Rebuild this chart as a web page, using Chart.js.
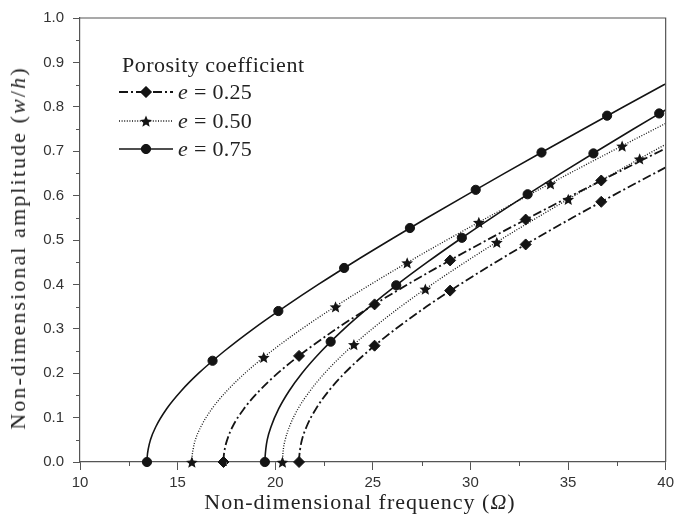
<!DOCTYPE html>
<html>
<head>
<meta charset="utf-8">
<title>Amplitude vs frequency</title>
<script src="https://cdn.jsdelivr.net/npm/chart.js@4.4.0/dist/chart.umd.min.js"></script>
<style>
    html, body { margin: 0; padding: 0; background: #fff; }
    #wrap { position: relative; width: 678px; height: 526px; }
    .txt {
        position: absolute;
        font-family: "Liberation Serif", "Times New Roman", serif;
        color: #222;
        white-space: nowrap;
        line-height: 1;
    }
    #xTitle { left: 360px; top: 502px; font-size: 22px; letter-spacing: 1px; transform: translate(-50%, -50%); }
    #yTitle { left: 18px; top: 248px; font-size: 22px; letter-spacing: 2.1px; transform: translate(-50%, -50%) rotate(-90deg); }
    #legTitle { left: 122px; top: 65px; font-size: 22px; letter-spacing: 0.5px; transform: translateY(-50%); }
    .legItem { left: 178px; font-size: 22px; letter-spacing: 0.3px; transform: translateY(-50%); }
</style>
</head>
<body>
<div id="wrap">
    <canvas id="chart" width="678" height="526"></canvas>
    <div class="txt" id="xTitle">Non-dimensional frequency (<i>Ω</i>)</div>
    <div class="txt" id="yTitle">Non-dimensional amplitude (<i>w</i>/<i>h</i>)</div>
    <div class="txt" id="legTitle">Porosity coefficient</div>
    <div class="txt legItem" style="top:92px"><i>e</i> = 0.25</div>
    <div class="txt legItem" style="top:121px"><i>e</i> = 0.50</div>
    <div class="txt legItem" style="top:149px"><i>e</i> = 0.75</div>
</div>
<script>
// amplitude levels (w/h) at which the curves were read
const ampLevels = [0, 0.01, 0.03, 0.05, 0.08, 0.12, 0.16, 0.2, 0.25, 0.3, 0.35, 0.4, 0.45, 0.5, 0.55, 0.6, 0.65, 0.7, 0.75, 0.8, 0.85, 0.9];

// frequency of each curve at those amplitude levels
const freqE075a = [13.43, 13.44, 13.50, 13.61, 13.89, 14.44, 15.18, 16.08, 17.40, 18.88, 20.50, 22.21, 24.01, 25.88, 27.79, 29.75, 31.74, 33.75, 35.79, 37.85, 39.93, 42.02];
const freqE050a = [15.73, 15.74, 15.80, 15.91, 16.20, 16.76, 17.52, 18.45, 19.82, 21.37, 23.07, 24.89, 26.80, 28.79, 30.84, 32.94, 35.07, 37.24, 39.44, 41.67];
const freqE025a = [17.35, 17.36, 17.42, 17.54, 17.82, 18.40, 19.18, 20.13, 21.54, 23.14, 24.90, 26.79, 28.78, 30.85, 33.00, 35.19, 37.43, 39.71, 42.02];
const freqE075b = [19.47, 19.48, 19.52, 19.59, 19.79, 20.18, 20.71, 21.37, 22.37, 23.53, 24.84, 26.26, 27.79, 29.40, 31.08, 32.83, 34.63, 36.47, 38.35, 40.27];
const freqE050b = [20.37, 20.38, 20.42, 20.51, 20.73, 21.17, 21.78, 22.53, 23.66, 24.97, 26.43, 28.03, 29.73, 31.52, 33.40, 35.33, 37.33, 39.36, 41.44];
const freqE025b = [21.22, 21.23, 21.28, 21.37, 21.61, 22.09, 22.74, 23.55, 24.77, 26.18, 27.75, 29.47, 31.29, 33.22, 35.22, 37.29, 39.42, 41.59];

// symbol positions
const mkE075aX = [13.43, 16.79, 20.16, 23.53, 26.90, 30.27, 33.64, 37.00];
const mkE075aY = [0, 0.228, 0.340, 0.437, 0.527, 0.613, 0.697, 0.780];
const mkE050aX = [15.73, 19.41, 23.09, 26.76, 30.43, 34.10, 37.77];
const mkE050aY = [0, 0.236, 0.350, 0.449, 0.540, 0.627, 0.712];
const mkE025aX = [17.35, 21.22, 25.09, 28.96, 32.83, 36.70];
const mkE025aY = [0, 0.239, 0.355, 0.454, 0.546, 0.634];
const mkE075bX = [19.47, 22.84, 26.20, 29.56, 32.93, 36.30, 39.67];
const mkE075bY = [0, 0.271, 0.398, 0.505, 0.603, 0.695, 0.785];
const mkE050bX = [20.37, 24.03, 27.69, 31.35, 35.01, 38.67];
const mkE050bY = [0, 0.265, 0.390, 0.495, 0.592, 0.683];
const mkE025bX = [21.22, 25.09, 28.96, 32.83, 36.70];
const mkE025bY = [0, 0.262, 0.386, 0.490, 0.586];

const xTicks = [10, 15, 20, 25, 30, 35, 40];
const yTicks = [0, 0.1, 0.2, 0.3, 0.4, 0.5, 0.6, 0.7, 0.8, 0.9, 1.0];

const INK = '#141414';
const AXIS = '#555';

const styles = {
    e025: { dash: [9, 3, 2, 3], width: 1.8, point: 'rectRot', radius: 5.5 },
    e050: { dash: [1, 1.6], width: 1.3, point: 'star5', radius: 6.2 },
    e075: { dash: [], width: 1.6, point: 'circle', radius: 4.6 }
};

// filled five-point star path (Chart.js has no filled star style)
function starPath(ctx, cx, cy, r) {
    const ri = r * 0.45;
    ctx.beginPath();
    for (let i = 0; i < 10; i++) {
        const rad = i % 2 === 0 ? r : ri;
        const ang = -Math.PI / 2 + i * Math.PI / 5;
        const px = cx + rad * Math.cos(ang), py = cy + 0.8 + rad * Math.sin(ang);
        if (i === 0) ctx.moveTo(px, py); else ctx.lineTo(px, py);
    }
    ctx.closePath();
    ctx.fill();
}

function curve(freqs, st) {
    return {
        data: freqs.map((f, i) => ({ x: f, y: ampLevels[i] })),
        showLine: true,
        borderColor: INK,
        borderWidth: st.width,
        borderDash: st.dash,
        pointRadius: 0,
        cubicInterpolationMode: 'monotone',
        order: 2
    };
}

function symbols(xs, ys, st) {
    const isStar = st.point === 'star5';
    return {
        data: xs.map((x, i) => ({ x: x, y: ys[i] })),
        showLine: false,
        pointStyle: isStar ? 'circle' : st.point,
        pointRadius: isStar ? 0 : st.radius,
        starRadius: isStar ? st.radius : 0,
        backgroundColor: INK,
        borderColor: INK,
        borderWidth: 1,
        clip: false,
        order: 1
    };
}

// stars drawn on the positions the scales gave the points
const starPlugin = {
    id: 'stars',
    afterDatasetsDraw(chart) {
        const ctx = chart.ctx;
        ctx.save();
        ctx.fillStyle = INK;
        chart.data.datasets.forEach((ds, i) => {
            if (!ds.starRadius) return;
            chart.getDatasetMeta(i).data.forEach(pt => starPath(ctx, pt.x, pt.y, ds.starRadius));
        });
        ctx.restore();
    }
};

// box, minor ticks and the inset legend swatches
const framePlugin = {
    id: 'frame',
    afterDraw(chart) {
        const { ctx, chartArea: a, scales } = chart;
        ctx.save();
        ctx.strokeStyle = AXIS;
        ctx.lineWidth = 1.2;
        ctx.beginPath();
        ctx.moveTo(a.left, a.top);
        ctx.lineTo(a.right, a.top);
        ctx.lineTo(a.right, a.bottom);
        ctx.stroke();

        ctx.lineWidth = 1;
        ctx.beginPath();
        for (let v = 12.5; v < 40; v += 5) {
            const px = Math.round(scales.x.getPixelForValue(v)) + 0.5;
            ctx.moveTo(px, a.bottom);
            ctx.lineTo(px, a.bottom + 4);
        }
        for (let k = 0; k < 10; k++) {
            const py = Math.round(scales.y.getPixelForValue(0.05 + k * 0.1)) + 0.5;
            ctx.moveTo(a.left, py);
            ctx.lineTo(a.left - 4, py);
        }
        ctx.stroke();

        const rows = [[styles.e025, 92], [styles.e050, 121], [styles.e075, 149]];
        rows.forEach(([st, y]) => {
            ctx.strokeStyle = INK;
            ctx.lineWidth = st.width;
            ctx.setLineDash(st.dash);
            ctx.beginPath();
            ctx.moveTo(119, y);
            ctx.lineTo(173, y);
            ctx.stroke();
            ctx.setLineDash([]);
            ctx.fillStyle = INK;
            ctx.lineWidth = 1;
            if (st.point === 'star5') {
                starPath(ctx, 146, y, st.radius);
            } else {
                Chart.helpers.drawPoint(ctx, { pointStyle: st.point, radius: st.radius, rotation: 0, borderWidth: 1 }, 146, y);
                ctx.fill();
            }
        });
        ctx.restore();
    }
};

const tickFont = { family: '"Liberation Sans", Arial, sans-serif', size: 15 };

new Chart(document.getElementById('chart'), {
    type: 'scatter',
    data: {
        datasets: [
            curve(freqE075a, styles.e075),
            curve(freqE050a, styles.e050),
            curve(freqE025a, styles.e025),
            curve(freqE075b, styles.e075),
            curve(freqE050b, styles.e050),
            curve(freqE025b, styles.e025),
            symbols(mkE075aX, mkE075aY, styles.e075),
            symbols(mkE050aX, mkE050aY, styles.e050),
            symbols(mkE025aX, mkE025aY, styles.e025),
            symbols(mkE075bX, mkE075bY, styles.e075),
            symbols(mkE050bX, mkE050bY, styles.e050),
            symbols(mkE025bX, mkE025bY, styles.e025)
        ]
    },
    options: {
        responsive: false,
        animation: false,
        layout: { padding: { left: 0, right: 10, top: 14, bottom: 0 } },
        plugins: { legend: { display: false }, tooltip: { enabled: false } },
        scales: {
            x: {
                type: 'linear',
                min: xTicks[0],
                max: xTicks[xTicks.length - 1],
                afterFit: s => { s.height = 64; },
                afterBuildTicks: s => { s.ticks = xTicks.map(v => ({ value: v })); },
                grid: { drawOnChartArea: false, drawTicks: true, tickLength: 8, color: AXIS, tickColor: AXIS },
                border: { display: true, color: AXIS, width: 1.2 },
                ticks: { font: tickFont, color: '#333', padding: 4, maxRotation: 0, callback: v => String(v) }
            },
            y: {
                type: 'linear',
                min: yTicks[0],
                max: yTicks[yTicks.length - 1],
                afterFit: s => { s.width = 80; },
                afterBuildTicks: s => { s.ticks = yTicks.map(v => ({ value: v })); },
                grid: { drawOnChartArea: false, drawTicks: true, tickLength: 7, color: AXIS, tickColor: AXIS },
                border: { display: true, color: AXIS, width: 1.2 },
                ticks: { font: tickFont, color: '#333', padding: 9, callback: v => v.toFixed(1) }
            }
        }
    },
    plugins: [starPlugin, framePlugin]
});
</script>
</body>
</html>
